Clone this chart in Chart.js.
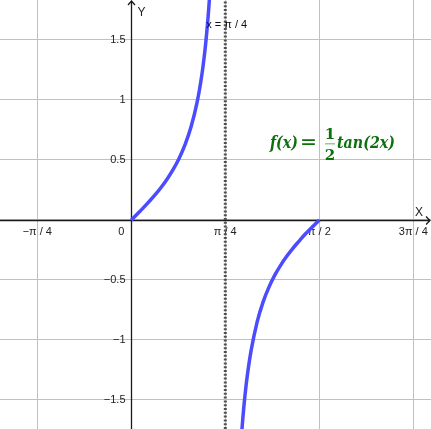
<!DOCTYPE html>
<html>
<head>
<meta charset="utf-8">
<script src="https://cdn.jsdelivr.net/npm/chart.js@4"></script>
<style>
  body { margin: 0; background: #fff; }
  #wrap { width: 431px; height: 429px; }
</style>
</head>
<body>
<div id="wrap"><canvas id="c" width="431" height="429"></canvas></div>
<script>
// axis ranges and ticks
const xRange = [-1.097, 2.504];
const yRange = [-1.742, 1.833];
const xTicks = [-Math.PI / 4, 0, Math.PI / 4, Math.PI / 2, 3 * Math.PI / 4];
const xTickLabels = ['\u2212\u03c0 / 4', '0', '\u03c0 / 4', '\u03c0 / 2', '3\u03c0 / 4'];
const yTicks = [-1.5, -1, -0.5, 0, 0.5, 1, 1.5];
const yTickLabels = ['\u22121.5', '\u22121', '\u22120.5', '', '0.5', '1', '1.5'];

// curve, left branch (0 .. asymptote)
const branch1X = [0, 0.05, 0.1, 0.15, 0.2, 0.25, 0.3, 0.35, 0.4, 0.45, 0.5, 0.55, 0.58, 0.6, 0.62, 0.64, 0.66, 0.67];
const branch1Y = [0, 0.050, 0.101, 0.155, 0.211, 0.273, 0.342, 0.421, 0.515, 0.630, 0.779, 0.982, 1.148, 1.286, 1.456, 1.671, 1.951, 2.13];
// right branch (asymptote .. pi/2)
const branch2X = [0.90, 0.92, 0.94, 0.96, 0.98, 1.0, 1.05, 1.1, 1.15, 1.2, 1.25, 1.3, 1.35, 1.4, 1.45, 1.5, 1.571];
const branch2Y = [-2.143, -1.807, -1.561, -1.370, -1.219, -1.093, -0.855, -0.687, -0.560, -0.458, -0.374, -0.301, -0.236, -0.178, -0.121, -0.071, 0];

// vertical asymptote x = pi/4
const asymX = Math.PI / 4;
const asymLabel = 'x = \u03c0 / 4';

const toPts = (xs, ys) => xs.map((x, i) => ({ x, y: ys[i] }));

const curveStyle = {
    showLine: true,
    borderColor: '#4b4bff',
    borderWidth: 3.5,
    pointRadius: 0,
    cubicInterpolationMode: 'monotone',
    fill: false
};

// draw text squeezed/stretched to a target width
function fitText(ctx, txt, x, y, w) {
    const m = ctx.measureText(txt).width;
    ctx.save();
    ctx.translate(x, y);
    ctx.scale(w / m, 1);
    ctx.fillText(txt, 0, 0);
    ctx.restore();
}

const axesPlugin = {
    id: 'axes',
    beforeDatasetsDraw(chart) {
        const { ctx, scales: { x, y }, chartArea: a } = chart;
        const x0 = Math.round(x.getPixelForValue(0)) + 0.5;
        const y0 = Math.round(y.getPixelForValue(0)) + 0.5;
        ctx.save();
        ctx.strokeStyle = '#1a1a1a';
        ctx.lineWidth = 1.3;
        ctx.beginPath();
        ctx.moveTo(a.left, y0); ctx.lineTo(a.right - 1, y0);
        ctx.moveTo(x0, a.bottom); ctx.lineTo(x0, a.top + 1);
        // arrow heads
        ctx.moveTo(a.right - 5, y0 - 4); ctx.lineTo(a.right - 1, y0); ctx.lineTo(a.right - 5, y0 + 4);
        ctx.moveTo(x0 - 3.5, a.top + 5); ctx.lineTo(x0, a.top + 1); ctx.lineTo(x0 + 3.5, a.top + 5);
        ctx.stroke();

        ctx.fillStyle = '#222';
        ctx.font = '11px "Liberation Sans", Arial, sans-serif';
        ctx.textBaseline = 'middle';
        ctx.textAlign = 'center';
        xTicks.forEach((v, i) => {
            let px = x.getPixelForValue(v);
            if (v === 0) px -= 10;
            ctx.fillText(xTickLabels[i], px, y0 + 11);
        });
        ctx.textAlign = 'right';
        yTicks.forEach((v, i) => {
            if (!yTickLabels[i]) return;
            ctx.fillText(yTickLabels[i], x0 - 6, y.getPixelForValue(v));
        });
        ctx.font = '12px "Liberation Sans", Arial, sans-serif';
        ctx.textAlign = 'left';
        ctx.fillText('Y', x0 + 6, a.top + 13);
        ctx.fillText('X', a.right - 16, y0 - 8);
        ctx.restore();
    },
    afterDatasetsDraw(chart) {
        const { ctx, scales: { x, y } } = chart;
        ctx.save();
        ctx.fillStyle = '#111';
        ctx.font = '11px "Liberation Sans", Arial, sans-serif';
        ctx.textBaseline = 'middle';
        ctx.textAlign = 'left';
        ctx.fillText(asymLabel, x.getPixelForValue(asymX) - 19, 25);

        // formula label
        const green = '#0c700c';
        const by = 148;
        ctx.fillStyle = green;
        ctx.textBaseline = 'alphabetic';
        ctx.font = 'italic bold 17px "DejaVu Serif", "Liberation Serif", serif';
        fitText(ctx, 'f(x)', 270, by, 28);
        ctx.font = 'bold 17px "DejaVu Serif", "Liberation Serif", serif';
        fitText(ctx, '=', 300, by - 1, 17);
        ctx.font = 'bold 15px "DejaVu Serif", "Liberation Serif", serif';
        ctx.textAlign = 'center';
        ctx.fillText('1', 330, 139);
        ctx.fillText('2', 330, 160);
        ctx.fillStyle = '#9cc79c';
        ctx.fillRect(325, 143, 10, 1.5);
        ctx.fillStyle = green;
        ctx.textAlign = 'left';
        ctx.font = 'italic bold 17px "DejaVu Serif", "Liberation Serif", serif';
        fitText(ctx, 'tan(2x)', 337, by, 58);
        ctx.restore();
    }
};

const gridOpts = { color: '#c0c0c0', lineWidth: 1, drawTicks: false };

new Chart(document.getElementById('c'), {
    type: 'scatter',
    data: {
        datasets: [
            { ...curveStyle, data: toPts(branch1X, branch1Y) },
            { ...curveStyle, data: toPts(branch2X, branch2Y) },
            {
                showLine: true,
                data: toPts([asymX, asymX], yRange),
                borderColor: '#505050',
                borderWidth: 3,
                borderDash: [2, 1.8],
                pointRadius: 0
            }
        ]
    },
    options: {
        responsive: false,
        animation: false,
        layout: { padding: 0 },
        plugins: { legend: { display: false }, tooltip: { enabled: false } },
        scales: {
            x: {
                type: 'linear', min: xRange[0], max: xRange[1],
                grid: gridOpts, border: { display: false },
                ticks: { display: false },
                afterBuildTicks: s => { s.ticks = xTicks.map(v => ({ value: v })); }
            },
            y: {
                type: 'linear', min: yRange[0], max: yRange[1],
                grid: gridOpts, border: { display: false },
                ticks: { display: false },
                afterBuildTicks: s => { s.ticks = yTicks.map(v => ({ value: v })); }
            }
        }
    },
    plugins: [axesPlugin]
});
</script>
</body>
</html>
